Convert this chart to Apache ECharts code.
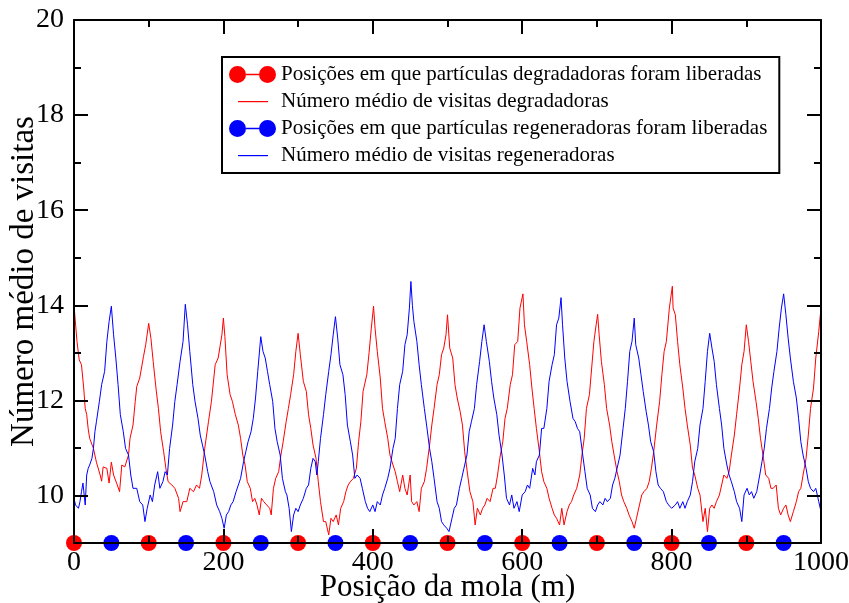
<!DOCTYPE html>
<html>
<head>
<meta charset="utf-8">
<script src="https://cdn.jsdelivr.net/npm/echarts@6/dist/echarts.min.js"></script>
<style>
  html, body { margin: 0; padding: 0; background: #fff; }
  #chart { width: 849px; height: 603px; }
</style>
</head>
<body>
<div id="chart"></div>
<script>
// Mean number of visits along the spring, degrading vs. regenerating particles
const redX = [0,1,4,7,10,13,15,17,19,21,26,30,35,37,39,44,47,50,53,57,61,64,68,73,75,79,82,84,88,93,96,100,103,106,110,113,116,120,123,126,131,135,140,142,146,151,155,160,164,168,171,175,180,184,189,193,198,
  200,202,205,209,212,216,220,223,226,229,232,236,239,242,245,248,251,254,258,262,264,267,270,274,277,280,284,287,290,294,297,300,303,307,311,314,317,320,324,327,330,334,337,341,344,347,351,354,357,361,364,367,370,374,378,381,384,387,392,395,398,
  401,403,406,410,413,416,420,423,427,430,433,436,440,443,446,450,452,455,459,462,465,469,472,476,479,482,486,489,492,495,498,500,503,507,510,513,517,520,523,527,530,534,537,540,544,547,550,553,557,561,564,567,570,574,577,580,584,587,590,594,597,
  601,603,606,610,613,616,619,623,626,629,633,636,640,643,646,650,653,656,660,663,666,669,673,677,680,683,686,690,693,696,699,701,703,706,710,713,717,720,723,727,730,733,736,740,743,747,750,753,757,760,763,767,770,773,776,780,784,787,790,793,797,
  801,802,805,808,811,815,818,821,825,828,831,835,838,842,845,848,851,854,857,860,864,867,870,874,877,880,884,887,891,894,897,900,903,906,909,913,916,919,923,926,930,933,936,940,943,946,950,953,956,959,963,967,970,973,976,980,983,986,990,993,997,1000];
const redY = [14.0,13.98,13.24,12.85,12.75,12.26,11.83,11.7,11.4,11.2,10.99,10.7,10.43,10.3,10.6,10.57,10.26,10.7,10.43,10.26,10.08,10.64,10.6,10.85,11.2,11.48,11.98,12.29,12.47,12.92,13.17,13.62,13.3,12.82,12.22,11.83,11.34,10.92,10.57,10.29,10.22,10.15,9.94,9.66,9.87,9.87,10.15,10.08,10.22,10.15,10.43,10.99,11.55,11.98,12.75,12.89,13.38,
  13.73,13.34,12.54,12.12,11.98,11.7,11.48,11.2,10.85,10.64,10.29,10.15,9.87,9.94,9.8,9.59,9.94,9.87,9.8,9.73,9.59,10.15,10.36,10.5,10.85,11.13,11.55,11.83,12.12,12.54,13.03,13.41,12.96,12.4,12.19,11.7,11.41,11.06,10.78,10.29,9.87,9.45,9.45,9.17,9.52,9.45,9.59,9.38,9.73,9.87,10.08,10.22,10.29,10.36,10.57,11.13,11.55,12.19,12.54,13.0,13.52,
  13.98,13.52,13.03,12.47,11.83,11.55,11.2,10.85,10.64,10.5,10.29,10.08,10.43,10.15,10.01,10.43,9.87,9.8,9.87,9.66,10.15,10.29,10.57,11.06,11.48,11.83,12.33,12.54,12.96,13.1,13.38,13.8,13.1,12.89,12.33,12.05,11.76,11.48,10.92,10.43,10.08,9.87,9.38,9.73,9.59,9.73,9.8,9.94,9.87,10.15,10.15,10.43,10.78,11.13,11.62,11.83,12.33,12.54,13.17,13.24,13.94,
  14.24,13.59,13.24,12.75,12.26,11.83,11.41,10.92,10.5,10.29,10.15,9.94,9.73,9.59,9.52,9.38,9.73,9.38,9.66,9.8,9.87,10.01,10.15,10.43,10.85,11.2,11.83,12.12,12.68,13.24,13.59,13.81,13.38,12.82,12.33,11.83,11.48,11.13,10.85,10.5,10.29,10.01,9.87,9.73,9.59,9.45,9.31,9.52,9.8,10.01,10.08,10.15,10.29,10.57,10.92,11.48,11.98,12.54,13.03,13.24,13.94,
  14.4,13.94,13.8,13.24,12.75,12.26,11.83,11.48,11.06,10.57,10.43,10.15,10.01,9.45,9.73,9.24,9.73,9.8,9.73,9.87,10.01,10.22,10.43,10.36,10.5,10.85,11.27,11.7,12.26,12.75,13.03,13.59,13.24,12.82,12.4,11.98,11.62,11.2,10.78,10.43,10.36,10.15,10.15,10.22,9.73,9.59,9.73,9.8,9.59,9.45,9.66,9.87,10.08,10.15,10.43,10.78,11.27,11.83,12.26,12.89,13.45,13.94];

const blueX = [0,2,6,8,10,12,15,17,19,21,24,26,28,30,34,37,41,44,47,50,53,56,59,62,66,69,73,76,79,84,88,92,95,98,102,105,108,112,115,119,122,125,128,132,135,138,142,146,149,152,155,159,162,166,169,172,175,179,182,187,191,195,198,
  201,204,207,210,213,217,220,223,227,230,233,237,240,243,246,250,253,256,259,262,266,269,272,276,279,283,285,288,291,294,297,300,303,307,311,314,317,320,323,325,327,330,334,337,341,344,347,350,353,356,360,363,366,370,373,376,379,383,386,390,393,396,
  400,403,406,410,413,416,420,423,427,430,433,436,440,443,446,449,451,453,455,459,462,465,469,472,476,479,482,486,489,492,495,499,502,506,509,512,516,519,522,526,529,532,536,539,543,546,549,552,556,559,562,566,569,573,576,579,583,586,589,593,596,
  600,604,607,610,614,617,619,623,626,629,633,636,640,643,646,649,652,654,657,660,664,668,671,674,677,681,684,687,691,694,698,701,704,708,711,714,718,721,724,727,731,735,738,741,744,747,750,752,756,759,762,766,769,772,776,779,782,785,789,793,796,
  800,802,805,808,811,815,818,821,825,828,831,835,838,842,845,848,851,854,857,860,864,867,870,874,877,880,884,887,891,894,897,901,904,907,910,914,918,921,924,927,931,934,937,941,944,947,950,953,956,959,963,967,970,973,976,980,983,986,990,993,997,1000];
const blueY = [9.94,9.8,9.73,9.87,10.08,10.26,9.8,10.43,10.57,10.64,10.78,10.99,11.34,11.55,11.98,12.33,12.61,13.24,13.66,13.98,13.38,12.89,12.33,11.7,11.34,10.99,10.85,10.43,10.15,10.15,9.87,9.8,9.45,9.73,10.01,9.87,10.22,10.5,10.15,10.29,10.5,10.43,10.99,11.48,11.98,12.33,12.82,13.24,14.02,13.59,13.03,12.33,11.98,11.62,11.27,11.06,10.85,10.5,10.29,10.08,9.8,9.66,9.52,
  9.31,9.59,9.66,9.8,9.87,10.08,10.22,10.36,10.71,10.92,11.13,11.34,11.62,12.05,12.61,13.34,13.03,12.89,12.61,12.33,11.98,11.41,11.13,10.85,10.36,10.08,10.01,9.73,9.24,9.59,9.73,9.66,9.8,9.94,10.15,10.22,10.57,10.78,10.71,10.43,10.71,11.2,11.7,12.12,12.61,12.96,13.38,13.76,13.31,12.75,12.54,12.12,11.48,11.13,10.85,10.36,10.43,10.36,10.15,9.87,9.73,9.66,
  9.8,9.66,9.87,9.8,10.01,10.15,10.36,10.57,10.99,11.2,11.83,12.33,12.61,13.17,13.38,13.94,14.5,14.0,13.66,13.24,12.75,12.33,11.83,11.48,10.99,10.71,10.36,9.87,9.73,9.45,9.38,9.31,9.24,9.52,9.73,9.8,10.15,10.36,10.57,10.85,11.34,11.55,11.83,12.33,12.82,13.24,13.59,13.24,12.82,12.4,12.05,11.7,11.27,10.85,10.43,9.94,9.8,10.01,9.73,9.87,9.66,
  10.01,10.08,10.22,10.15,10.57,10.43,10.71,10.85,11.41,11.41,11.83,12.4,12.75,12.96,13.59,13.73,14.16,13.59,12.89,12.4,11.98,11.62,11.55,11.41,11.34,10.85,10.5,10.15,10.01,9.73,9.66,9.8,9.87,9.8,9.94,9.87,9.94,10.22,10.36,10.57,10.85,11.41,11.83,12.4,13.03,13.24,13.73,13.17,12.89,12.54,12.19,11.76,11.48,11.13,10.92,10.5,10.22,10.15,10.08,9.87,9.8,
  9.73,9.73,9.8,9.87,9.73,9.87,9.73,9.87,10.01,10.29,10.71,10.99,11.48,11.83,12.4,13.03,13.41,13.1,12.82,12.33,11.83,11.48,10.99,10.64,10.43,10.29,10.08,9.87,9.73,9.45,10.01,10.15,10.01,10.08,9.94,10.08,10.43,10.71,10.99,11.41,11.83,12.26,12.61,13.03,13.52,13.94,14.24,13.8,13.31,12.89,12.4,12.05,11.62,11.13,10.85,10.57,10.29,10.15,10.08,10.15,9.87,9.66];

// Release positions of each particle type along the spring, drawn on the floor of the axis
const redRelease = [0, 100, 200, 300, 400, 500, 600, 700, 800, 900];
const blueRelease = [50, 150, 250, 350, 450, 550, 650, 750, 850, 950];
const releaseLevel = 9;

const yMajor = [10, 12, 14, 16, 18, 20];
const yMinor = [11, 13, 15, 17, 19];

const names = [
  'Posições em que partículas degradadoras foram liberadas',
  'Número médio de visitas degradadoras',
  'Posições em que partículas regeneradoras foram liberadas',
  'Número médio de visitas regeneradoras'
];

const RED = '#ff0000';
const BLUE = '#0000ff';
const FONT = '"Liberation Serif", "DejaVu Serif", serif';
const INK = '#000';

// legend glyphs: two dots joined by a line, and a short bare line inside a 47x17 box
const dotsIcon = 'path://M0,8.5A8.5,8.5,0,1,1,17,8.5A8.5,8.5,0,1,1,0,8.5Z' +
  'M30,8.5A8.5,8.5,0,1,1,47,8.5A8.5,8.5,0,1,1,30,8.5Z' +
  'M17,7.8L30,7.8L30,9.2L17,9.2Z';
function lineIcon(color) {
  const svg = '<svg xmlns="http://www.w3.org/2000/svg" width="47" height="17" viewBox="0 0 47 17">' +
    '<rect x="9" y="8" width="30" height="1.2" fill="' + color + '"/></svg>';
  return 'image://data:image/svg+xml;charset=utf-8,' + encodeURIComponent(svg);
}

function pairs(xs, ys) { return xs.map((x, i) => [x, ys[i]]); }
function floorPairs(xs) { return xs.map(x => [x, releaseLevel]); }

const axisLineStyle = { color: INK, width: 2 };
const plainNumber = v => String(v);

const chart = echarts.init(document.getElementById('chart'), null, { renderer: 'canvas' });
chart.setOption({
  animation: false,
  backgroundColor: '#fff',
  grid: { left: 74, right: 28, top: 20, bottom: 60, containLabel: false, outerBoundsMode: 'none' },
  legend: {
    orient: 'vertical',
    left: 222, top: 57,
    padding: [7, 12, 7, 7],
    itemGap: 6,
    itemWidth: 47, itemHeight: 17,
    borderColor: INK, borderWidth: 2,
    backgroundColor: '#fff',
    selectedMode: false,
    textStyle: { fontFamily: FONT, fontSize: 21, color: INK, lineHeight: 21 },
    data: [
      { name: names[0], icon: dotsIcon },
      { name: names[1], icon: lineIcon(RED) },
      { name: names[2], icon: dotsIcon },
      { name: names[3], icon: lineIcon(BLUE) }
    ]
  },
  xAxis: [
    {
      type: 'value', position: 'bottom', min: 0, max: 1000, interval: 200, z: 5,
      name: 'Posição da mola (m)', nameLocation: 'middle', nameGap: 29, nameMoveOverlap: false,
      nameTextStyle: { fontFamily: FONT, fontSize: 31, color: INK },
      axisLine: { onZero: false, lineStyle: axisLineStyle },
      axisTick: { inside: true, length: 14, lineStyle: { color: INK, width: 2 } },
      minorTick: { show: true, splitNumber: 2, length: 7, lineStyle: { color: INK, width: 2 } },
      axisLabel: { fontFamily: FONT, fontSize: 28, color: INK, margin: 6, formatter: plainNumber },
      splitLine: { show: false }
    },
    {
      type: 'value', position: 'top', min: 0, max: 1000, interval: 200, z: 5,
      axisLine: { onZero: false, lineStyle: axisLineStyle },
      axisTick: { inside: true, length: 14, lineStyle: { color: INK, width: 2 } },
      minorTick: { show: true, splitNumber: 2, length: 7, lineStyle: { color: INK, width: 2 } },
      axisLabel: { show: false },
      splitLine: { show: false }
    }
  ],
  yAxis: [
    {
      type: 'value', position: 'left', min: 9, max: 20, z: 5,
      name: 'Número médio de visitas', nameLocation: 'middle', nameGap: 33, nameMoveOverlap: false,
      nameTextStyle: { fontFamily: FONT, fontSize: 33, color: INK },
      axisLine: { onZero: false, lineStyle: axisLineStyle },
      axisTick: { inside: true, length: 14, customValues: yMajor, lineStyle: { color: INK, width: 2 } },
      axisLabel: { customValues: yMajor, fontFamily: FONT, fontSize: 28, color: INK, margin: 10, formatter: plainNumber },
      splitLine: { show: false }
    },
    {
      type: 'value', position: 'left', min: 9, max: 20, z: 5,
      axisLine: { show: false, onZero: false },
      axisTick: { inside: true, length: 7, customValues: yMinor, lineStyle: { color: INK, width: 2 } },
      axisLabel: { show: false },
      splitLine: { show: false }
    },
    {
      type: 'value', position: 'right', min: 9, max: 20, z: 5,
      axisLine: { onZero: false, lineStyle: axisLineStyle },
      axisTick: { inside: true, length: 14, customValues: yMajor, lineStyle: { color: INK, width: 2 } },
      axisLabel: { show: false },
      splitLine: { show: false }
    },
    {
      type: 'value', position: 'right', min: 9, max: 20, z: 5,
      axisLine: { show: false, onZero: false },
      axisTick: { inside: true, length: 7, customValues: yMinor, lineStyle: { color: INK, width: 2 } },
      axisLabel: { show: false },
      splitLine: { show: false }
    }
  ],
  series: [
    {
      name: names[0], type: 'line', data: floorPairs(redRelease),
      symbol: 'circle', symbolSize: 16, showAllSymbol: true, clip: false,
      color: RED, itemStyle: { color: RED }, lineStyle: { color: RED, width: 1 },
      silent: true, z: 3
    },
    {
      name: names[1], type: 'line', data: pairs(redX, redY),
      symbol: 'none', color: RED, itemStyle: { color: RED },
      lineStyle: { color: RED, width: 1 }, silent: true, z: 2
    },
    {
      name: names[2], type: 'line', data: floorPairs(blueRelease),
      symbol: 'circle', symbolSize: 16, showAllSymbol: true, clip: false,
      color: BLUE, itemStyle: { color: BLUE }, lineStyle: { color: BLUE, width: 1 },
      silent: true, z: 3
    },
    {
      name: names[3], type: 'line', data: pairs(blueX, blueY),
      symbol: 'none', color: BLUE, itemStyle: { color: BLUE },
      lineStyle: { color: BLUE, width: 1 }, silent: true, z: 2
    }
  ]
});
</script>
</body>
</html>
